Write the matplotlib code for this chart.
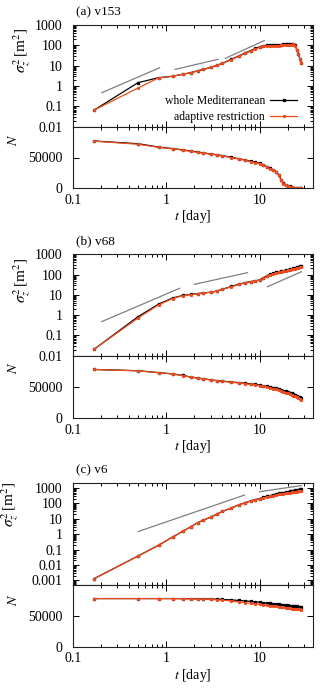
import matplotlib
matplotlib.use('Agg')
import matplotlib.pyplot as plt
from matplotlib.ticker import FuncFormatter, FixedLocator, LogLocator, NullFormatter

plt.rcParams['font.family'] = ['Liberation Serif', 'DejaVu Serif']
plt.rcParams['mathtext.fontset'] = 'stix'

# time axis (days), shared by all series
t_day = [0.17, 0.5, 0.83, 1.17, 1.5, 1.83, 2.17, 2.5, 3, 3.5, 4, 5, 6, 7, 8, 9, 10,
         11, 12, 13, 14, 15, 16, 17, 18, 19, 20, 21, 22, 23, 24, 25, 26, 27, 28]

# (a) v153
sig_a_whole = [0.066, 1.46, 2.57, 3.0, 3.8, 4.5, 5.6, 6.6, 8.3, 10.5, 13, 21, 30, 42, 55, 70, 85,
               96, 100, 102, 103, 104, 106, 108, 110, 112, 115, 112, 118, 120, 100, 60, 36, 22, 14]
sig_a_adapt = [0.066, 0.8, 2.5, 3.0, 3.8, 4.5, 5.5, 6.5, 8.2, 10.3, 12.8, 20, 29, 40, 52, 66, 80,
               90, 94, 95, 96, 97, 98, 100, 102, 104, 106, 104, 108, 110, 98, 60, 36, 22, 14]
n_a_whole = [76800, 72400, 67000, 64500, 62500, 60500, 59000, 57500, 55800, 54500, 53000, 50300,
             48000, 46000, 44000, 42300, 40600, 38000, 35000, 32500, 30000, 27000, 22000, 14000,
             8000, 6000, 4500, 3000, 2000, 1200, 700, 300, 100, 0, 0]
n_a_adapt = [76500, 71500, 66500, 64000, 62000, 60000, 58500, 57000, 55300, 54000, 52500, 49800,
             47500, 45500, 43500, 41800, 40000, 37400, 34400, 31800, 29300, 26200, 21000, 13000,
             7500, 5500, 4000, 2700, 1800, 1000, 600, 250, 80, 0, 0]

# (b) v68
sig_b_whole = [0.021, 0.84, 3.5, 7.0, 9.3, 10.5, 11.5, 12.5, 13.5, 15.5, 19, 26, 34, 40, 45, 49, 55,
               70, 88, 104, 118, 130, 138, 145, 155, 165, 175, 185, 195, 205, 215, 228, 240, 255, 270]
sig_b_adapt = [0.021, 0.72, 3.2, 6.6, 9.0, 10.3, 11.3, 12.3, 13.3, 15.2, 18.5, 25, 33, 39, 44, 48, 53,
               66, 82, 97, 110, 120, 128, 135, 144, 153, 162, 171, 180, 189, 198, 208, 218, 228, 240]
n_b_whole = [78000, 76000, 73000, 71000, 68500, 66000, 64500, 63200, 61500, 60300, 59500, 58000,
             57000, 56000, 55000, 54000, 53000, 52000, 51000, 50000, 49000, 48000, 46800, 45500,
             44200, 43000, 42000, 41000, 40000, 38800, 37500, 36000, 34800, 33500, 32000]
n_b_adapt = [78000, 75800, 72800, 70800, 68200, 65800, 64200, 62800, 61100, 59900, 59000, 57500,
             56400, 55300, 54200, 53100, 52000, 50800, 49700, 48600, 47500, 46300, 45000, 43700,
             42400, 41100, 40000, 38800, 37700, 36400, 35100, 33700, 32400, 31100, 29800]

# (c) v6
sig_c_whole = [0.0013, 0.038, 0.19, 0.65, 1.5, 3.0, 5.5, 8.0, 13, 20, 30, 50, 80, 110, 145, 175, 205,
               240, 280, 320, 360, 400, 440, 470, 500, 530, 560, 590, 620, 650, 690, 720, 760, 800, 850]
sig_c_adapt = [0.0013, 0.038, 0.19, 0.65, 1.5, 3.0, 5.5, 8.0, 13, 20, 30, 50, 80, 108, 140, 168, 195,
               225, 258, 290, 320, 350, 380, 405, 430, 455, 475, 495, 515, 535, 555, 575, 595, 610, 630]
n_c_whole = [78000, 78000, 78000, 78000, 77900, 77800, 77700, 77500, 77300, 77000, 76600, 75800,
             75000, 74200, 73500, 72800, 72000, 71300, 70700, 70100, 69600, 69100, 68700, 68300,
             67900, 67500, 67100, 66700, 66300, 66000, 65700, 65400, 65100, 64800, 64500]
n_c_adapt = [78000, 78000, 78000, 77900, 77700, 77500, 77200, 76900, 76500, 76000, 75400, 74000,
             72700, 71400, 70300, 69400, 68600, 67800, 67100, 66400, 65800, 65200, 64600, 64100,
             63600, 63100, 62700, 62300, 61900, 61500, 61200, 60900, 60600, 60300, 60000]

# gray slope guides: (t ends, value ends)
guide_a = [([0.205, 0.85], [0.47, 7.9]), ([1.25, 3.6], [6.6, 20.6]), ([4.3, 11.2], [23, 170])]
guide_b = [([0.205, 1.39], [0.48, 21]), ([2.0, 7.4], [33, 124]), ([12.1, 28], [25, 138])]
guide_c = [([0.505, 6.9], [1.5, 345]), ([10, 28], [570, 1420])]

titles = ['(a) v153', '(b) v68', '(c) v6']
red = '#ee4b1f'

W, H = 320, 690
fig = plt.figure(figsize=(W / 100, H / 100), dpi=100)

# pixel boxes: (top of sigma axes, sigma/N boundary, bottom of N axes)
boxes = [(25, 126.7, 188.3), (254.3, 355.7, 418.3), (483.3, 585, 646.7)]
x0, x1 = 72.7, 312.7

panels = [
    (sig_a_whole, sig_a_adapt, n_a_whole, n_a_adapt, guide_a, (0.01, 1000), 0.754, -0.17),
    (sig_b_whole, sig_b_adapt, n_b_whole, n_b_adapt, guide_b, (0.01, 1000), 0.746, -0.17),
    (sig_c_whole, sig_c_adapt, n_c_whole, n_c_adapt, guide_c, (0.0005, 2000), 0.79, -0.22),
]

fmt = FuncFormatter(lambda v, p: '%g' % v)


def style(ax):
    ax.tick_params(which='both', direction='in', top=True, right=True, labelsize=10, width=0.7)
    ax.tick_params(which='major', length=4)
    ax.tick_params(which='minor', length=2)
    ax.tick_params(axis='y', pad=7.5)
    ax.tick_params(axis='x', pad=4)
    for s in ax.spines.values():
        s.set_linewidth(0.8)
        s.set_color('#222222')


for i, (sw, sa, nw, na, guides, ylim, ylab_y, ylab_x) in enumerate(panels):
    top, mid, bot = boxes[i]
    ax1 = fig.add_axes([x0 / W, 1 - mid / H, (x1 - x0) / W, (mid - top) / H])
    ax2 = fig.add_axes([x0 / W, 1 - bot / H, (x1 - x0) / W, (bot - mid) / H], sharex=ax1)

    for gt, gv in guides:
        ax1.plot(gt, gv, color='#7f7f7f', lw=0.9)
    ax1.plot(t_day, sw, color='black', lw=0.9, marker='s', ms=1.4, label='whole Mediterranean')
    ax1.plot(t_day, sa, color=red, lw=0.9, marker='s', ms=1.2, label='adaptive restriction')
    ax1.set_xscale('log')
    ax1.set_yscale('log')
    ax1.set_xlim(0.1, 37)
    ax1.set_ylim(*ylim)
    ax1.yaxis.set_major_locator(LogLocator(base=10, numticks=20))
    ax1.yaxis.set_minor_locator(LogLocator(base=10, subs=range(2, 10), numticks=20))
    ax1.yaxis.set_minor_formatter(NullFormatter())
    ax1.yaxis.set_major_formatter(fmt)
    ax1.set_ylabel(r'$\sigma_z^2\,$[m$^2$]', fontsize=11)
    ax1.yaxis.set_label_coords(ylab_x, ylab_y)
    style(ax1)
    ax1.tick_params(axis='x', labelbottom=False)

    ax2.plot(t_day, nw, color='black', lw=0.9, marker='s', ms=1.4)
    ax2.plot(t_day, na, color=red, lw=0.9, marker='s', ms=1.2)
    ax2.set_ylim(0, 100000)
    ax2.yaxis.set_major_locator(FixedLocator([0, 50000]))
    ax2.yaxis.set_major_formatter(fmt)
    ax2.xaxis.set_major_locator(LogLocator(base=10, numticks=10))
    ax2.xaxis.set_minor_locator(LogLocator(base=10, subs=range(2, 10), numticks=10))
    ax2.xaxis.set_minor_formatter(NullFormatter())
    ax2.xaxis.set_major_formatter(fmt)
    ax2.set_ylabel(r'$N$', fontsize=10)
    ax2.yaxis.set_label_coords(-0.22, [0.78, 0.8, 0.76][i])
    ax2.set_xlabel(r'$t$ [day]', fontsize=10, labelpad=1)
    style(ax2)

    fig.text(76 / W, 1 - (top - 13) / H, titles[i], fontsize=9.5, va='center', ha='left')

    if i == 0:
        ax1.legend(loc='lower right', bbox_to_anchor=(0.935, 0.04), frameon=False,
                   markerfirst=False, fontsize=8.5, handlelength=2.3, handletextpad=0.4,
                   labelspacing=0.3, borderpad=0, borderaxespad=0)

fig.savefig('out.png', dpi=100)
